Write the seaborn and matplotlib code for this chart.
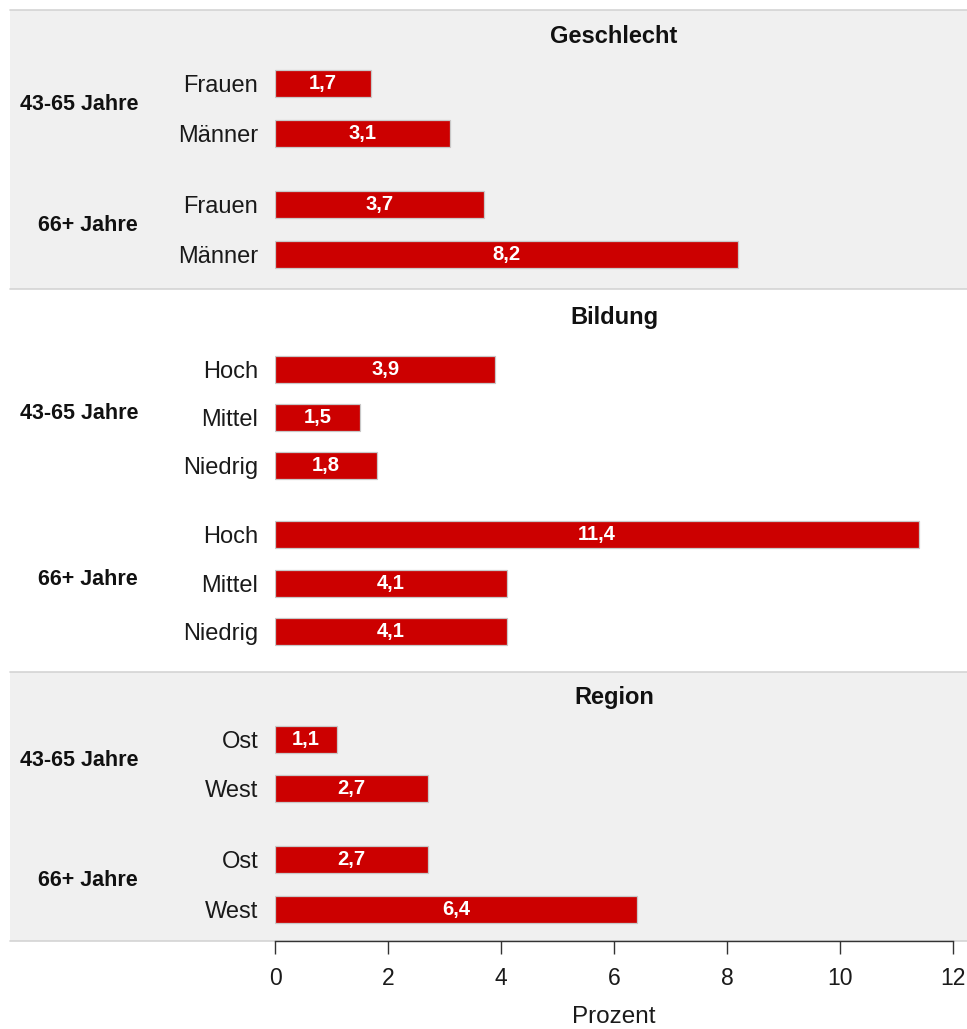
import numpy as np
import pandas as pd
import matplotlib
matplotlib.use("Agg")
import matplotlib.pyplot as plt
import matplotlib.transforms as mtransforms
from matplotlib.patches import Rectangle
from matplotlib.lines import Line2D
import seaborn as sns

# ---------------- data ----------------
age_groups = ["43-65 Jahre", "66+ Jahre"]
panel_titles = ["Geschlecht", "Bildung", "Region"]

geschlecht_labels = ["Frauen", "Männer"]
geschlecht_43_65 = [1.7, 3.1]
geschlecht_66plus = [3.7, 8.2]

bildung_labels = ["Hoch", "Mittel", "Niedrig"]
bildung_43_65 = [3.9, 1.5, 1.8]
bildung_66plus = [11.4, 4.1, 4.1]

region_labels = ["Ost", "West"]
region_43_65 = [1.1, 2.7]
region_66plus = [2.7, 6.4]

x_ticks = [0, 2, 4, 6, 8, 10, 12]
x_label = "Prozent"

# ---------------- style ----------------
sns.set_style("white")
plt.rcParams["font.family"] = ["Liberation Sans", "DejaVu Sans"]

W, H = 967, 1029
fig = plt.figure(figsize=(W / 100, H / 100), dpi=100)

BAR_COLOR = "#cc0000"
EDGE_COLOR = "#c8c8c8"
LINE_COLOR = "#d4d4d4"
AX_L, AX_R = 275, 953
PANEL_L = 10
GAP = 0.43
BAR_PX = 27

# layout (pixels): top, bottom, first bar centre, step, background, title offset
panels = [
    (panel_titles[0], geschlecht_labels, [geschlecht_43_65, geschlecht_66plus],
     9.5, 288.5, 83.3, 50.0, "#f0f0f0", 27),
    (panel_titles[1], bildung_labels, [bildung_43_65, bildung_66plus],
     288.5, 671.5, 369.3, 48.3, "#ffffff", 29),
    (panel_titles[2], region_labels, [region_43_65, region_66plus],
     671.5, 941.0, 739.3, 49.5, "#f0f0f0", 26),
]

# panel separator lines
for y in [9.5, 288.5, 671.5, 941.0]:
    fig.add_artist(Line2D([PANEL_L / W, 1], [1 - y / H, 1 - y / H],
                          transform=fig.transFigure, color=LINE_COLOR,
                          lw=1.2, zorder=-1))

for p_idx, (title, labels, series, top, bottom, first, step, bg, toff) in enumerate(panels):
    rows = []
    for g, (grp, vals) in enumerate(zip(age_groups, series)):
        for i, (lab, v) in enumerate(zip(labels, vals)):
            rows.append(dict(group=grp, label=lab, value=v,
                             pos=g * (len(labels) + GAP) + i))
    df = pd.DataFrame(rows)

    fig.add_artist(Rectangle((PANEL_L / W, 1 - bottom / H), (W - PANEL_L) / W,
                             (bottom - top) / H, transform=fig.transFigure,
                             facecolor=bg, edgecolor="none", zorder=-2))

    ax = fig.add_axes([AX_L / W, 1 - bottom / H, (AX_R - AX_L) / W, (bottom - top) / H])
    ax.patch.set_alpha(0)

    sns.barplot(data=df, x="value", y="pos", orient="h", native_scale=True,
                width=BAR_PX / step, color=BAR_COLOR, saturation=1,
                edgecolor=EDGE_COLOR, linewidth=0.9, errorbar=None, ax=ax)

    ax.set_xlim(0, 12)
    ax.set_ylim((bottom - first) / step, (top - first) / step)

    ax.set_yticks(df["pos"].tolist())
    ax.set_yticklabels(df["label"].tolist(), fontsize=17, color="#1a1a1a")
    ax.tick_params(axis="y", length=0, pad=12)
    ax.set_ylabel("")
    for s in ax.spines.values():
        s.set_visible(False)

    # value labels
    for _, r in df.iterrows():
        ax.text(r["value"] / 2, r["pos"], f"{r['value']:.1f}".replace(".", ","),
                ha="center", va="center", color="white", fontweight="bold",
                fontsize=14.5)

    # group labels
    trans = mtransforms.blended_transform_factory(fig.transFigure, ax.transData)
    trans = mtransforms.offset_copy(trans, fig=fig, y=4, units="dots")
    for grp in age_groups:
        mid = df.loc[df["group"] == grp, "pos"].mean()
        ax.text(138 / W, mid, grp, transform=trans, ha="right", va="center",
                fontweight="bold", fontsize=15.5, color="#111111")

    # panel title
    ax.annotate(title, xy=(0.5, 1), xycoords="axes fraction",
                xytext=(0, -toff), textcoords="offset pixels",
                ha="center", va="center", fontweight="bold", fontsize=17,
                color="#111111")

    if p_idx < len(panels) - 1:
        ax.set_xticks([])
        ax.set_xlabel("")
    else:
        ax.spines["bottom"].set_visible(True)
        ax.spines["bottom"].set_color("#333333")
        ax.spines["bottom"].set_linewidth(1.0)
        ax.set_xticks(x_ticks)
        ax.set_xticklabels([str(t) for t in x_ticks], fontsize=16.5, color="#1a1a1a")
        ax.tick_params(axis="x", bottom=True, length=9, width=1,
                       color="#333333", pad=10)
        ax.set_xlabel(x_label, fontsize=17.5, labelpad=11, color="#1a1a1a")

fig.savefig("out.png", dpi=100)
